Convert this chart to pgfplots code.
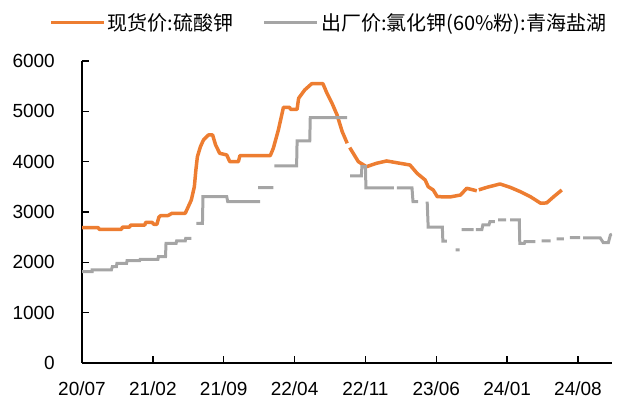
\documentclass[border=0pt]{standalone}
\usepackage{fontspec}
\setmainfont{Liberation Sans}
\newfontfamily\cjk{Noto Sans CJK SC}
\usepackage{pgfplots}
\pgfplotsset{compat=1.18}
\definecolor{orng}{HTML}{ED7D31}
\definecolor{gry}{HTML}{A5A5A5}
\begin{document}
\begin{tikzpicture}
\path[use as bounding box] (0,0) rectangle (619bp,400bp);
\begin{axis}[
 at={(82bp,37bp)}, anchor=south west,
 scale only axis, width=530bp, height=302bp,
 xmin=0, xmax=52.36, ymin=0, ymax=6000,
 axis lines=left, axis line style={line width=1.5bp, -},
 xtick={0,7,...,49},
 xticklabels={20/07,21/02,21/09,22/04,22/11,23/06,24/01,24/08},
 ytick={0,1000,...,6000},
 tick align=inside, major tick length=7bp,
 tick style={black, line width=1.3bp},
 ticklabel style={font=\fontsize{19bp}{22bp}\selectfont},
 yticklabel style={/pgf/number format/1000 sep={}, /pgf/number format/assume math mode=true, anchor=east, inner sep=0pt, xshift=-27bp},
 xticklabel style={anchor=center, inner sep=0pt, yshift=-26bp},
 unbounded coords=jump,
 legend columns=2,
 legend style={draw=none, fill=none, at={(-0.0617,1.127)}, anchor=west, inner sep=0pt,
   font=\cjk\fontsize{20bp}{23bp}\selectfont,
   /tikz/every even column/.append style={column sep=27bp}},
 legend cell align=left,
 legend image code/.code={\draw[#1, line width=3.5bp] (0bp,0bp) -- (53bp,0bp);},
]
\addplot[orng, line width=3.5bp, line join=round] coordinates {
(0,2690)(1.6,2690)(1.7,2656)(3.9,2656)(4.0,2700)(4.7,2700)(4.8,2740)(6.2,2740)(6.3,2795)(6.9,2795)(7.1,2756)(7.4,2756)(7.6,2900)(7.8,2930)(8.5,2930)(8.9,2975)(10.2,2975)(10.5,3106)(10.8,3239)(11.1,3503)(11.25,3835)(11.4,4099)(11.7,4298)(12.0,4431)(12.5,4531)(12.9,4531)(13.2,4332)(13.6,4167)(14.3,4133)(14.6,4000)(15.45,4000)(15.6,4120)(18.6,4120)(18.9,4266)(19.4,4630)(19.9,5080)(20.5,5080)(20.6,5040)(21.25,5040)(21.4,5259)(22.0,5424)(22.7,5550)(23.8,5550)(24.2,5359)(24.7,5160)(25.2,4928)(25.7,4600)(26.2,4365)(26.3,nan)(26.45,4280)(27.3,4000)(28.1,3900)(29.1,3968)(30.1,4014)(31.4,3968)(32.4,3934)(33.1,3769)(33.9,3636)(34.2,3503)(34.7,3437)(35.1,3304)(36.4,3300)(37.4,3338)(38.0,3471)(38.7,3437)(39.0,3420)(39.05,nan)(39.2,3440)(40.0,3490)(41.3,3557)(42.3,3490)(43.3,3404)(44.3,3304)(45.3,3175)(45.9,3180)(46.6,3304)(47.4,3437)
};
\addlegendentry{现货价:硫酸钾}
\addplot[gry, line width=3bp] coordinates {
(0,1814)(1.0,1814)(1.0,1848)(2.9,1848)(3.0,1914)(3.4,1914)(3.45,1980)(4.4,1980)(4.45,2033)(5.7,2033)(5.75,2060)(7.5,2060)(7.55,2113)(8.25,2113)(8.3,2378)(9.3,2378)(9.35,2424)(10.2,2424)(10.25,2477)(10.8,2477)
(11.0,nan)
(11.3,2775)(11.9,2775)(11.95,3304)(14.3,3304)(14.4,3205)(17.6,3205)
(17.5,nan)
(17.4,3484)(18.9,3484)
(18.95,nan)
(19.0,3914)(21.2,3914)(21.25,4411)(22.5,4411)(22.55,4875)(26.2,4875)
(26.3,nan)
(26.5,3716)(27.6,3716)(27.65,3901)(28.0,3901)(28.05,3480)(30.8,3480)
(30.9,nan)
(31.1,3480)(32.6,3480)(32.7,3205)(33.2,3205)
(33.5,nan)
(34.1,3205)(34.2,2700)(35.6,2700)(35.65,2420)(36.05,2420)
(36.5,nan)
(36.9,2245)(37.3,2245)
(37.4,nan)
(37.5,2650)(38.7,2650)
(38.8,nan)
(38.9,2650)(39.5,2650)(39.6,2742)(40.2,2742)(40.3,2808)(40.8,2808)
(40.9,nan)
(41.1,2845)(41.9,2845)
(42.1,nan)
(42.3,2845)(43.2,2845)(43.25,2378)(43.7,2378)(43.75,2410)(44.8,2410)
(45.0,nan)
(45.4,2424)(46.3,2424)
(46.6,nan)
(46.9,2464)(47.6,2464)
(47.9,nan)
(48.2,2490)(49.2,2490)
(49.3,nan)
(49.5,2484)(51.2,2484)(51.5,2391)(52.0,2391)(52.2,2543)(52.35,2560)
};
\addlegendentry{出厂价:氯化钾(60\%粉):青海盐湖}
\end{axis}
\end{tikzpicture}
\end{document}
